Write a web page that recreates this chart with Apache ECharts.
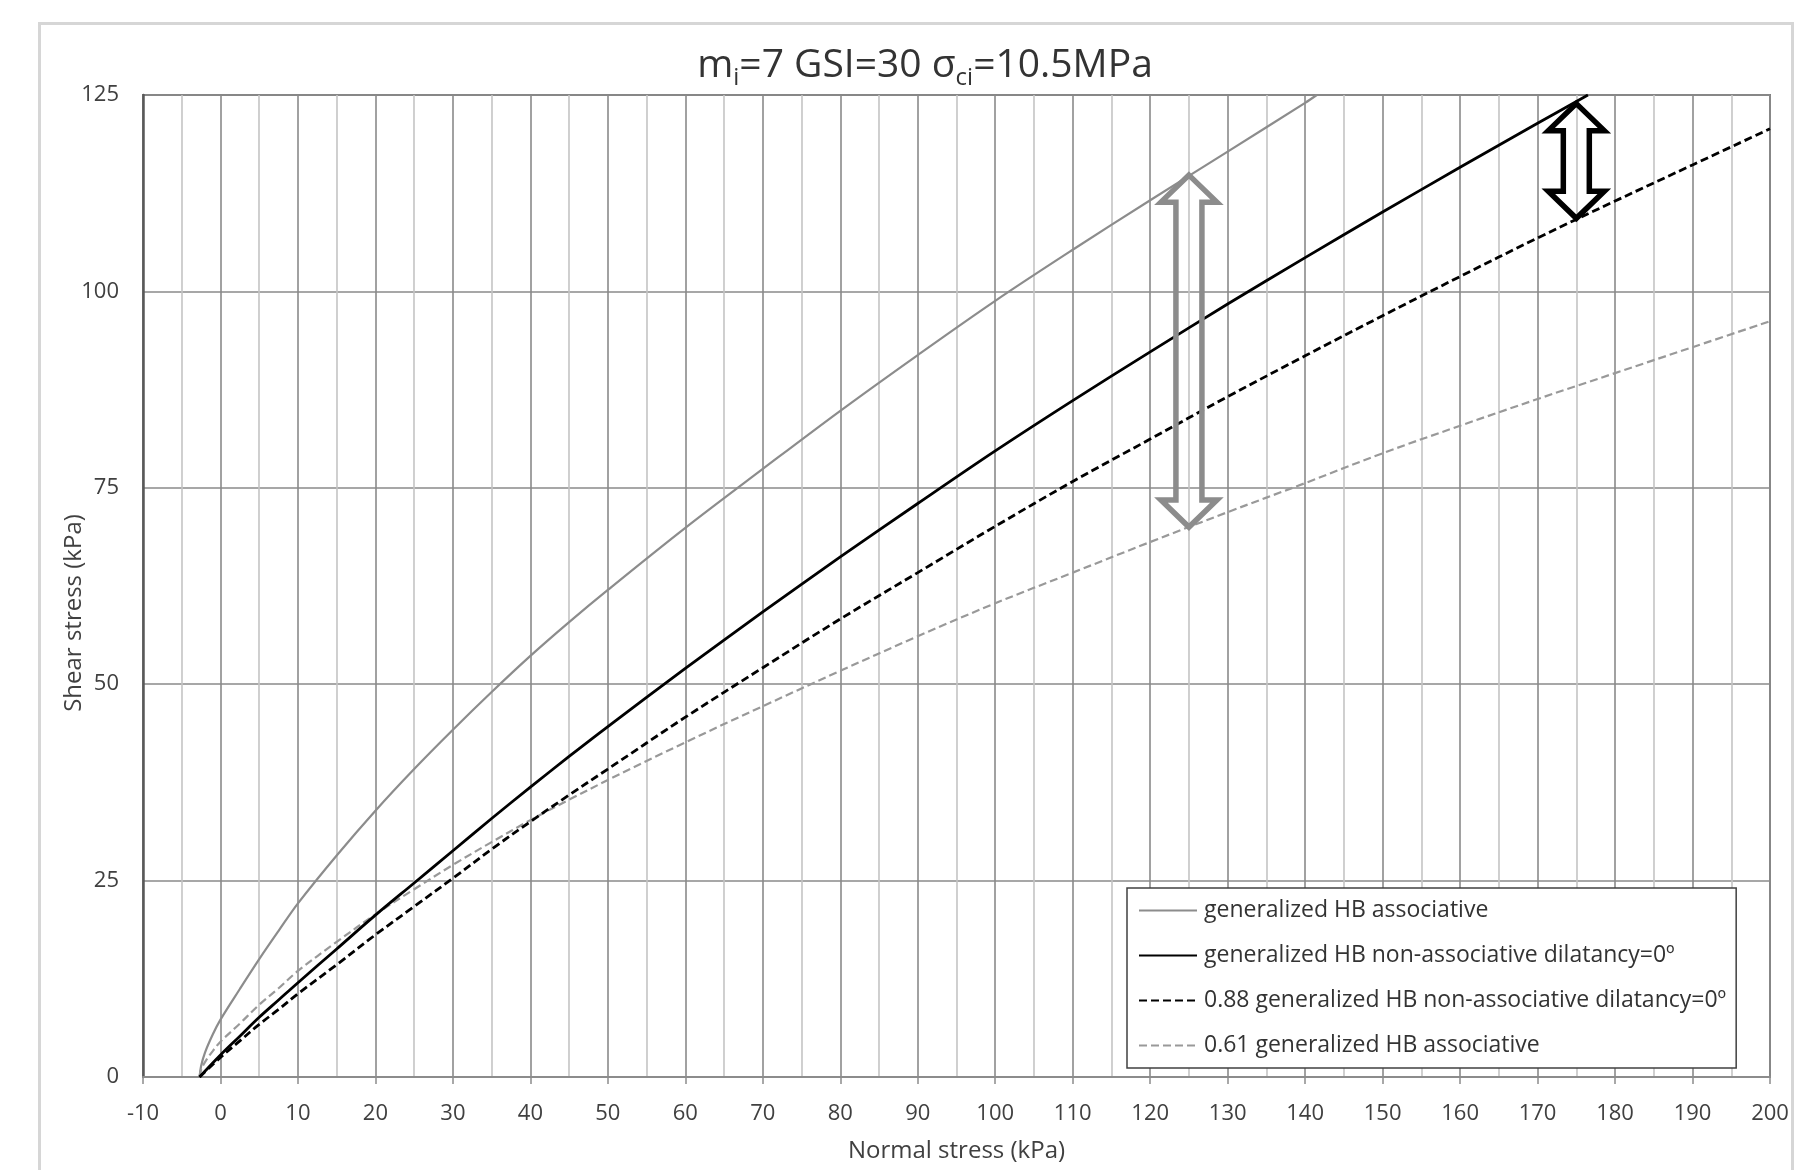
<!DOCTYPE html>
<html>
<head>
<meta charset="utf-8">
<script src="https://cdn.jsdelivr.net/npm/echarts@6/dist/echarts.min.js"></script>
<style>
html,body{margin:0;padding:0;background:#fff;}
#c{width:1813px;height:1170px;}
</style>
</head>
<body>
<div id="c"></div>
<script>
// ---- data ----
const seriesNames = [
  'generalized HB associative',
  'generalized HB non-associative dilatancy=0º',
  '0.88 generalized HB non-associative dilatancy=0º',
  '0.61 generalized HB associative'
];

// generalized HB associative (grey solid)
const assocX = [-2.7,-2.5,-2,-1,0,2.5,5,7.5,10,15,20,25,30,35,40,45,50,60,70,80,90,100,110,120,130,140,141.5];
const assocY = [0,1.4,3.1,5.4,7.3,11.2,15.0,18.6,22.1,28.2,33.9,39.2,44.2,49.0,53.6,57.9,62.0,69.9,77.4,84.8,91.9,98.8,105.3,111.6,117.8,124.0,125];

// generalized HB non-associative dilatancy=0 (black solid)
const nonAssocX = [-2.7,0,2.5,5,7.5,10,15,20,25,30,35,40,45,50,60,70,80,90,100,110,120,130,140,150,160,170,176.5];
const nonAssocY = [0,2.8,5.2,7.6,9.8,12.0,16.3,20.6,24.7,28.8,32.9,36.9,40.8,44.6,52.0,59.2,66.2,73.0,79.7,86.1,92.3,98.4,104.3,110.1,115.8,121.4,125];

// 0.88 generalized HB non-associative (black dashed)
const nonAssoc88X = [-2.7,0,2.5,5,7.5,10,15,20,25,30,35,40,45,50,60,70,80,90,100,110,120,130,140,150,160,170,180,190,200];
const nonAssoc88Y = [0,2.5,4.6,6.7,8.6,10.6,14.3,18.1,21.7,25.3,29.0,32.5,35.9,39.2,45.8,52.1,58.3,64.2,70.1,75.8,81.2,86.6,91.8,96.9,101.9,106.8,111.5,116.1,120.7];

// 0.61 generalized HB associative (grey dashed)
const assoc61X = [-2.7,-2.5,-2,-1,0,2.5,5,7.5,10,15,20,25,30,35,40,45,50,60,70,80,90,100,110,120,130,140,150,160,170,180,190,200];
const assoc61Y = [0,0.9,1.9,3.3,4.5,6.8,9.2,11.3,13.5,17.2,20.7,23.9,27.0,29.9,32.7,35.3,37.8,42.6,47.2,51.7,56.1,60.3,64.2,68.1,71.9,75.6,79.4,82.9,86.3,89.6,92.9,96.2];

// double arrows: x position, top value, bottom value
const arrowX = [125, 175];
const arrowTop = [114.8, 123.9];
const arrowBottom = [70.0, 109.3];

const xTicks = {min: -10, max: 200, step: 10};
const yTicks = {min: 0, max: 125, step: 25};

// ---- chart ----
const FONT = 'Open Sans';
const pairs = (xs, ys) => xs.map((x, i) => [x, ys[i]]);
const arrowColors = ['#8c8c8c', '#000000'];

const chart = echarts.init(document.getElementById('c'), null, {renderer: 'canvas'});

const lineCommon = {type: 'line', symbol: 'none', showSymbol: false, smooth: 0.35, clip: true};

const option = {
  backgroundColor: '#ffffff',
  animation: false,
  title: {
    text: 'm{s|i}=7 GSI=30 σ{s|ci}=10.5MPa',
    left: 920,
    textAlign: 'center',
    top: 37,
    textStyle: {
      fontFamily: FONT, fontSize: 39, fontWeight: 'normal', color: '#333333',
      lineHeight: 48,
      rich: {
        s: {fontFamily: FONT, fontSize: 24, color: '#333333', verticalAlign: 'bottom', lineHeight: 48, padding: [16, 0, 0, 0]}
      }
    }
  },
  graphic: [{
    type: 'rect', left: 37, top: 21, silent: true, z: -10,
    shape: {width: 1753, height: 1200},
    style: {fill: 'none', stroke: '#d6d6d6', lineWidth: 3}
  }],
  grid: {
    left: 143, right: 43, top: 95, bottom: 93,
    show: true, borderColor: '#7f7f7f', borderWidth: 2, backgroundColor: 'transparent'
  },
  legend: {
    data: seriesNames,
    orient: 'vertical',
    left: 1127, top: 888,
    padding: [11, 10, 11, 11],
    itemWidth: 58, itemHeight: 4, itemGap: 22,
    itemStyle: {opacity: 0},
    borderColor: '#404040', borderWidth: 1.5,
    backgroundColor: '#ffffff',
    textStyle: {fontFamily: FONT, fontSize: 23, color: '#333333', lineHeight: 22, padding: [0, 0, 0, 2]}
  },
  xAxis: {
    type: 'value',
    min: xTicks.min, max: xTicks.max, interval: xTicks.step,
    name: 'Normal stress (kPa)',
    nameLocation: 'middle', nameGap: 62,
    nameTextStyle: {fontFamily: FONT, fontSize: 24, color: '#404040'},
    axisLine: {show: true, onZero: false, lineStyle: {color: '#8c8c8c', width: 2}},
    axisTick: {show: true, length: 7, lineStyle: {color: '#8c8c8c', width: 1.5}},
    axisLabel: {fontFamily: FONT, fontSize: 22, color: '#404040', margin: 26},
    splitLine: {show: true, lineStyle: {color: '#8a8a8a', width: 1.6}},
    minorTick: {show: false, splitNumber: 2},
    minorSplitLine: {show: true, lineStyle: {color: '#c4c4c4', width: 1.6}}
  },
  yAxis: {
    type: 'value',
    min: yTicks.min, max: yTicks.max, interval: yTicks.step,
    name: 'Shear stress (kPa)',
    nameLocation: 'middle', nameGap: 57, nameRotate: 90,
    nameMoveOverlap: false,
    nameTextStyle: {fontFamily: FONT, fontSize: 24, color: '#404040', padding: [0, 54, 0, 0]},
    axisLine: {show: true, onZero: false, lineStyle: {color: '#595959', width: 2.5}},
    axisTick: {show: false},
    axisLabel: {fontFamily: FONT, fontSize: 22, color: '#404040', margin: 24},
    splitLine: {show: true, lineStyle: {color: '#8a8a8a', width: 1.6}}
  },
  series: [
    Object.assign({}, lineCommon, {
      name: seriesNames[0], data: pairs(assocX, assocY),
      lineStyle: {color: '#8c8c8c', width: 2.2, type: 'solid'},
      itemStyle: {color: '#8c8c8c'}, z: 3
    }),
    Object.assign({}, lineCommon, {
      name: seriesNames[1], data: pairs(nonAssocX, nonAssocY),
      lineStyle: {color: '#000000', width: 2.8, type: 'solid'},
      itemStyle: {color: '#000000'}, z: 4
    }),
    Object.assign({}, lineCommon, {
      name: seriesNames[2], data: pairs(nonAssoc88X, nonAssoc88Y),
      lineStyle: {color: '#000000', width: 2.8, type: [8, 4]},
      itemStyle: {color: '#000000'}, z: 4
    }),
    Object.assign({}, lineCommon, {
      name: seriesNames[3], data: pairs(assoc61X, assoc61Y),
      lineStyle: {color: '#999999', width: 2.2, type: [8, 4]},
      itemStyle: {color: '#999999'}, z: 3
    }),
    {
      name: 'arrows', type: 'custom',
      data: arrowX.map((x, i) => [x, arrowTop[i], arrowBottom[i], i]),
      encode: {x: 0, y: [1, 2]},
      clip: false, z: 6, silent: true,
      renderItem: function (params, api) {
        const x = api.value(0);
        const t = api.coord([x, api.value(1)]);
        const b = api.coord([x, api.value(2)]);
        const cx = t[0];
        const hw = 28, sw = 13, hh = 27;
        const pts = [
          [cx, t[1]], [cx + hw, t[1] + hh], [cx + sw, t[1] + hh],
          [cx + sw, b[1] - hh], [cx + hw, b[1] - hh], [cx, b[1]],
          [cx - hw, b[1] - hh], [cx - sw, b[1] - hh], [cx - sw, t[1] + hh],
          [cx - hw, t[1] + hh]
        ];
        return {
          type: 'polygon',
          shape: {points: pts},
          style: {fill: 'none', stroke: arrowColors[api.value(3)], lineWidth: 5.5, lineJoin: 'miter'}
        };
      }
    }
  ]
};
chart.setOption(option);
</script>
</body>
</html>
